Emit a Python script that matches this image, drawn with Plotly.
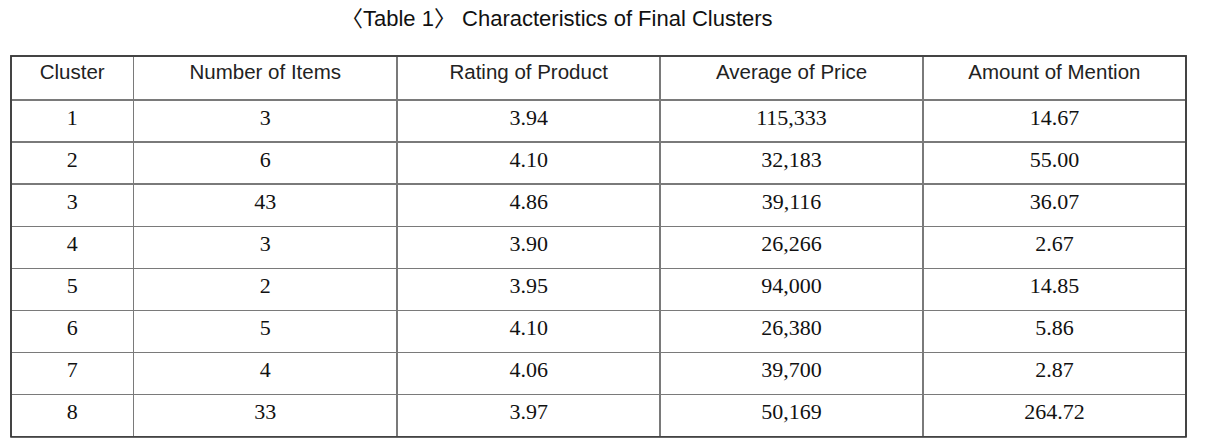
import plotly.graph_objects as go

title_text = "〈Table 1〉 Characteristics of Final Clusters"
headers = ["Cluster", "Number of Items", "Rating of Product", "Average of Price", "Amount of Mention"]
cluster = [1, 2, 3, 4, 5, 6, 7, 8]
num_items = [3, 6, 43, 3, 2, 5, 4, 33]
rating = [3.94, 4.10, 4.86, 3.90, 3.95, 4.10, 4.06, 3.97]
avg_price = [115333, 32183, 39116, 26266, 94000, 26380, 39700, 50169]
mention = [14.67, 55.00, 36.07, 2.67, 14.85, 5.86, 2.87, 264.72]

W, H = 1207, 441
left, right, top, bottom = 10.5, 1186.5, 55.5, 437.0

fig = go.Figure(go.Table(
    columnwidth=[122.5, 263.7, 263.3, 262.7, 263.3],
    header=dict(
        values=headers,
        height=44,
        align="center",
        fill_color="white",
        line=dict(color="#7a7a7a", width=1.5),
        font=dict(family="Liberation Sans, Noto Sans CJK KR", size=20.5, color="#222222"),
    ),
    cells=dict(
        values=[cluster, num_items, rating, avg_price, mention],
        format=["", "", ".2f", ",", ".2f"],
        height=42.1,
        align="center",
        fill_color="white",
        line=dict(color="#7a7a7a", width=1.5),
        font=dict(family="Liberation Serif, Times New Roman, serif", size=22, color="#111111"),
    ),
))

fig.add_shape(type="rect", xref="paper", yref="paper", x0=0, x1=1, y0=0, y1=1,
              line=dict(color="#333333", width=1.5), layer="above")

fig.add_annotation(text=title_text, xref="paper", yref="paper",
                   x=(557 - left) / (right - left), y=1 + (top - 18) / (bottom - top),
                   xanchor="center", yanchor="middle", showarrow=False,
                   font=dict(family="Liberation Sans, Noto Sans CJK KR", size=22, color="#111111"))

fig.update_layout(
    width=W, height=H,
    margin=dict(l=left, r=W - right, t=top, b=H - bottom, pad=0),
    paper_bgcolor="white", plot_bgcolor="white",
)

fig.write_html("out.html", config={"displayModeBar": False},
               post_script="document.body.style.margin='0';document.body.style.overflow='hidden';")
